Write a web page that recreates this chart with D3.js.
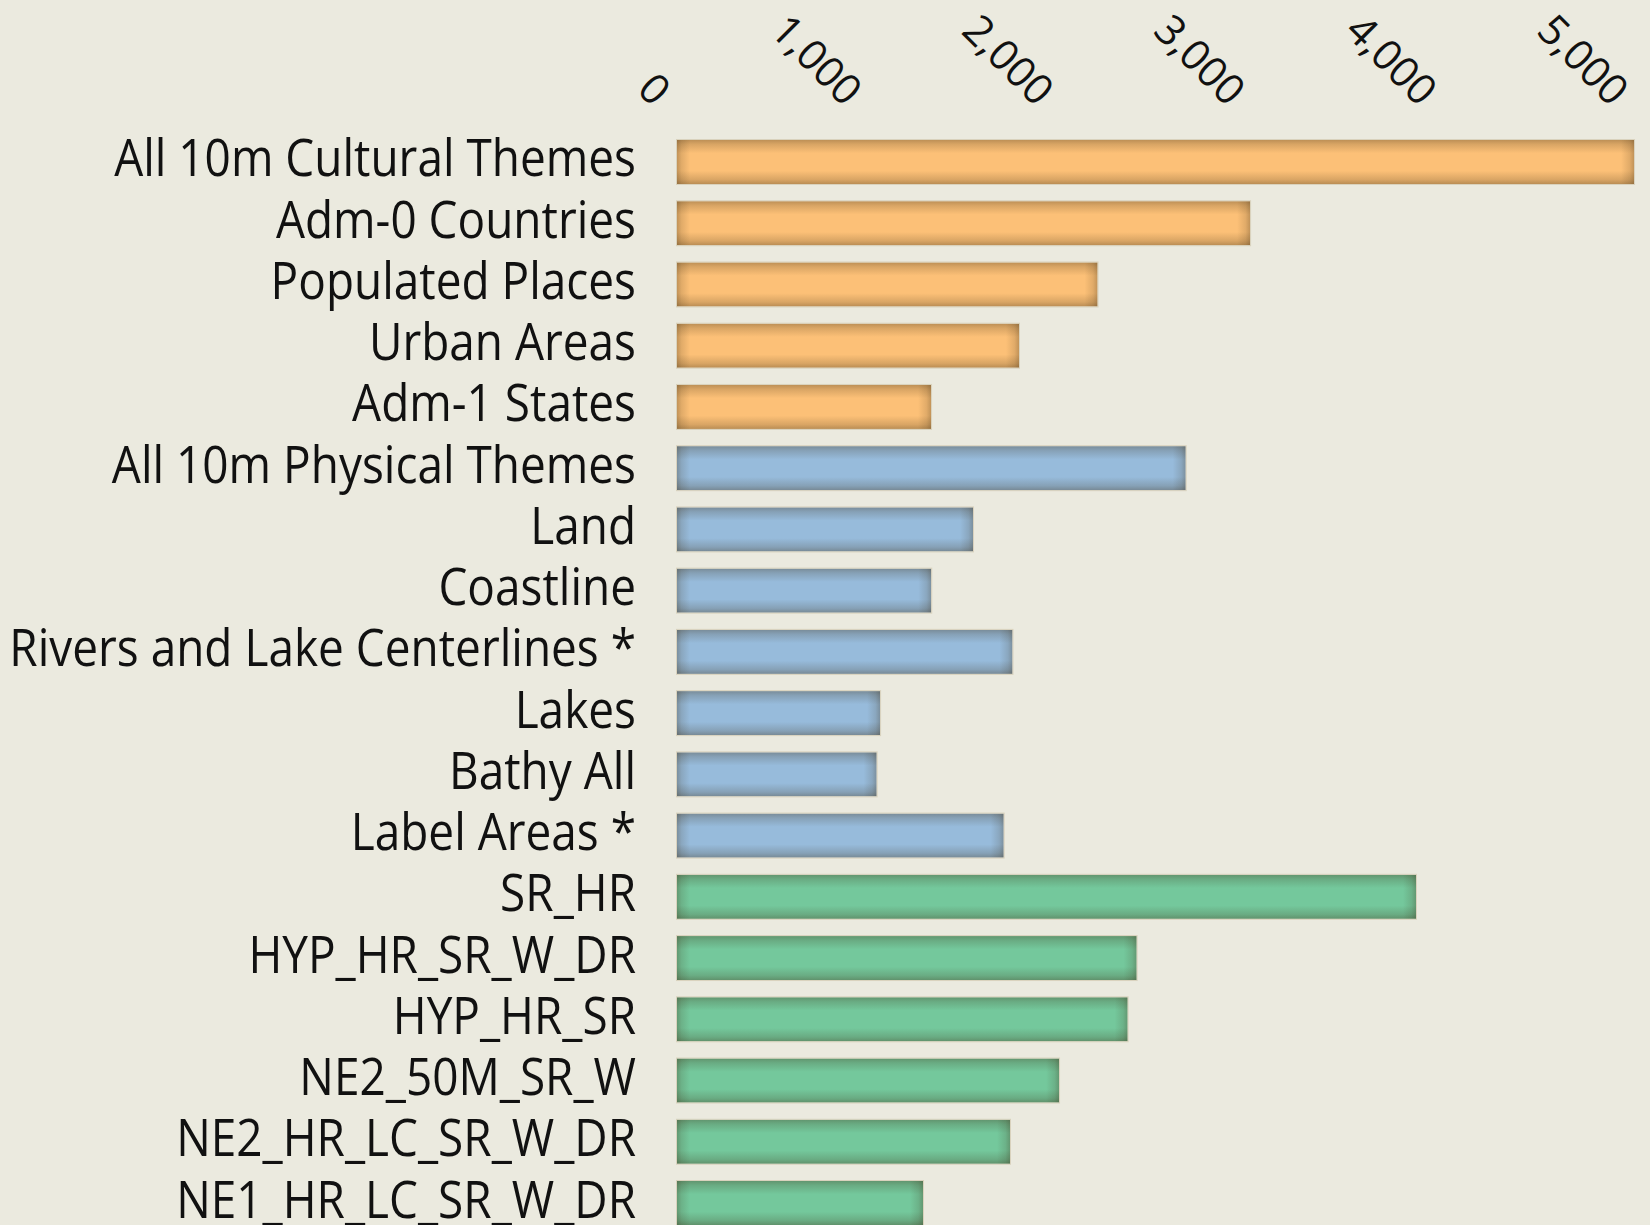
<!DOCTYPE html>
<html>
<head>
<meta charset="utf-8">
<script src="https://cdn.jsdelivr.net/npm/d3@7"></script>
<style>
	html, body { margin: 0; padding: 0; background: #ebeadf; overflow: hidden; }
	svg { display: block; }
	.label { font-family: "Open Sans", "Noto Sans", sans-serif; font-size: 51px; fill: #111; }
	.tick text { font-family: "Open Sans", "Noto Sans", sans-serif; font-size: 42px; fill: #111; }
</style>
</head>
<body>
<svg id="chart" width="1650" height="1225"></svg>
<script>

// Theme names, top to bottom
var categories = [
	"All 10m Cultural Themes", "Adm-0 Countries", "Populated Places", "Urban Areas", "Adm-1 States",
	"All 10m Physical Themes", "Land", "Coastline", "Rivers and Lake Centerlines *", "Lakes",
	"Bathy All", "Label Areas *",
	"SR_HR", "HYP_HR_SR_W_DR", "HYP_HR_SR", "NE2_50M_SR_W", "NE2_HR_LC_SR_W_DR", "NE1_HR_LC_SR_W_DR"
];

// Bar values
var values = [
	4995, 2991, 2195, 1785, 1326,
	2655, 1545, 1327, 1751, 1060,
	1042, 1705,
	3857, 2399, 2352, 1994, 1738, 1284
];

// Which group every bar belongs to
var groups = [
	"cultural", "cultural", "cultural", "cultural", "cultural",
	"physical", "physical", "physical", "physical", "physical",
	"physical", "physical",
	"raster", "raster", "raster", "raster", "raster", "raster"
];

var tickValues = [0, 1000, 2000, 3000, 4000, 5000];

var groupColor = { cultural: "#fcc077", physical: "#97bbdb", raster: "#74c89c" };

var svg = d3.select("#chart");
var defs = svg.append("defs");

// Shading gradients that darken the bar edges (inner bevel look)
function shadeGradient(id, x2, y2, stops)
{
	var g = defs.append("linearGradient")
				.attr("id", id)
				.attr("x1", 0).attr("y1", 0)
				.attr("x2", x2).attr("y2", y2);
	stops.forEach(function(s) {
		g.append("stop")
			.attr("offset", s[0])
			.attr("stop-color", "#3a2a10")
			.attr("stop-opacity", s[1]);
	});
}
shadeGradient("shadeV", 0, 1, [[0, 0.32], [0.1, 0.18], [0.3, 0], [0.7, 0], [0.9, 0.18], [1, 0.34]]);
shadeGradient("shadeL", 1, 0, [[0, 0.3], [0.35, 0.14], [1, 0]]);
shadeGradient("shadeR", 1, 0, [[0, 0], [0.65, 0.14], [1, 0.3]]);

var x = d3.scaleLinear()
			.domain([0, 5000])
			.range([677, 1635]);

var y = d3.scaleBand()
			.domain(categories)
			.range([140, 1225])
			.paddingInner(0.2815)
			.paddingOuter(0);

var data = categories.map(function(c, i) {
	return { name: c, value: values[i], group: groups[i] };
});

var edge = 13;

// Bars
var bars = svg.append("g")
	.selectAll("g")
	.data(data)
	.enter()
	.append("g");

bars.append("rect")
	.attr("x", x(0))
	.attr("y", function(d) { return y(d.name); })
	.attr("width", function(d) { return x(d.value) - x(0); })
	.attr("height", y.bandwidth())
	.attr("fill", function(d) { return groupColor[d.group]; });

bars.append("rect")
	.attr("x", x(0))
	.attr("y", function(d) { return y(d.name); })
	.attr("width", function(d) { return x(d.value) - x(0); })
	.attr("height", y.bandwidth())
	.attr("fill", "url(#shadeV)");

bars.append("rect")
	.attr("x", x(0))
	.attr("y", function(d) { return y(d.name); })
	.attr("width", edge)
	.attr("height", y.bandwidth())
	.attr("fill", "url(#shadeL)");

bars.append("rect")
	.attr("x", function(d) { return x(d.value) - edge; })
	.attr("y", function(d) { return y(d.name); })
	.attr("width", edge)
	.attr("height", y.bandwidth())
	.attr("fill", "url(#shadeR)");

// thin light rim round each bar
bars.append("rect")
	.attr("x", x(0) - 0.5)
	.attr("y", function(d) { return y(d.name) - 0.5; })
	.attr("width", function(d) { return x(d.value) - x(0) + 1; })
	.attr("height", y.bandwidth() + 1)
	.attr("fill", "none")
	.attr("stroke", "#d9d2bd")
	.attr("stroke-width", 1);

// Category labels, right aligned against the bars
var labels = svg.append("g")
	.selectAll("g")
	.data(data)
	.enter()
	.append("g")
	.attr("transform", function(d) { return "translate(636," + (y(d.name) + y.bandwidth() / 2 + 14.5) + ")"; });

labels.append("text")
	.attr("class", "label")
	.attr("text-anchor", "end")
	.text(function(d) { return d.name; });

// Squeeze the labels so the widest one matches the narrow original face
var widest = labels.select("text").node().getComputedTextLength();
var squeeze = 522 / widest;
labels.select("text").attr("transform", "scale(" + squeeze + ",1)");

// Top axis with slanted labels, no line and no ticks
var axis = d3.axisTop(x)
			.tickValues(tickValues)
			.tickSize(0)
			.tickFormat(d3.format(","));

var axisG = svg.append("g")
	.attr("transform", "translate(0,108)")
	.call(axis);

axisG.select(".domain").remove();
axisG.selectAll(".tick text")
	.attr("y", 0)
	.attr("dy", "0em")
	.attr("text-anchor", "end")
	.attr("transform", "translate(-25,0) rotate(45)");

</script>
</body>
</html>
